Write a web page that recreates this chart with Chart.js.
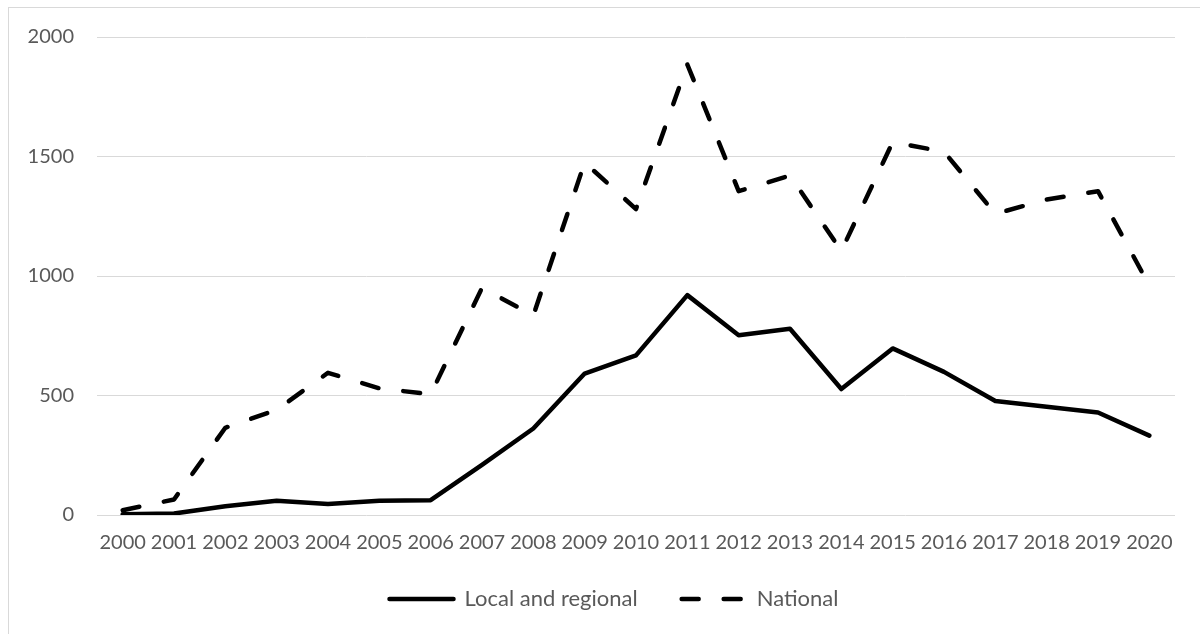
<!DOCTYPE html>
<html>
<head>
<meta charset="utf-8">
<title>Local and regional vs national, 2000–2020</title>
<script src="https://cdn.jsdelivr.net/npm/chart.js@4.4.1/dist/chart.umd.min.js"></script>
<style>
  html, body { margin: 0; padding: 0; background: #ffffff; }
  #wrap { position: relative; width: 1200px; height: 634px; overflow: hidden; }
  #frame {
    position: absolute; left: 8px; top: 7px; width: 1300px; height: 700px;
    border-top: 1px solid #d9d9d9; border-left: 1px solid #d9d9d9;
    pointer-events: none;
  }
  canvas { position: absolute; left: 0; top: 0; }
</style>
</head>
<body>
<div id="wrap">
  <div id="frame"></div>
  <canvas id="chart" width="1200" height="634"></canvas>
</div>
<script>
// Years on the horizontal axis
const years = ['2000', '2001', '2002', '2003', '2004', '2005', '2006', '2007', '2008', '2009', '2010',
               '2011', '2012', '2013', '2014', '2015', '2016', '2017', '2018', '2019', '2020'];

// Series values per year
const localRegional = [3, 6, 37, 60, 46, 60, 62, 210, 362, 592, 668, 920, 752, 779, 527, 697, 599, 477, 453, 429, 332];
const national      = [20, 65, 365, 440, 595, 530, 505, 950, 835, 1475, 1280, 1885, 1355, 1420, 1105, 1560, 1520, 1260, 1320, 1355, 960];

// Value axis ticks
const yTicks = [0, 500, 1000, 1500, 2000];

const seriesNames = ['Local and regional', 'National'];

const FONT = 'Lato';
const TEXT = '#595959';
const GRID = '#d9d9d9';
const FS = 20;        // axis labels
const LEGEND_FS = 22; // legend labels
const LEGEND_PAD = 44;
const LEGEND_START_X = 389.5;
const LEGEND_CENTER_Y = 599;

const PAD_L = 20, PAD_R = 25;

// Pins the legend row to a fixed start x and row centre y
const legendShift = {
  id: 'legendShift',
  afterLayout(chart) {
    const lg = chart.legend;
    if (!lg || !lg.lineWidths) return;
    const start = (lg.left + LEGEND_PAD + lg.right - lg.lineWidths[0]) / 2;
    const dx = LEGEND_START_X - start;
    lg.left += dx;
    lg.right += dx;
    const dy = LEGEND_CENTER_Y - (lg.top + LEGEND_PAD + LEGEND_FS / 2);
    lg.top += dy;
    lg.bottom += dy;
  }
};

new Chart(document.getElementById('chart'), {
  type: 'line',
  data: {
    labels: years,
    datasets: [
      {
        label: seriesNames[0],
        data: localRegional,
        borderColor: '#000000',
        backgroundColor: '#000000',
        borderWidth: 4.5,
        pointRadius: 0,
        tension: 0,
        borderCapStyle: 'round',
        borderJoinStyle: 'round'
      },
      {
        label: seriesNames[1],
        data: national,
        borderColor: '#000000',
        backgroundColor: '#000000',
        borderWidth: 4.5,
        borderDash: [17, 25],
        pointRadius: 0,
        tension: 0,
        borderCapStyle: 'round',
        borderJoinStyle: 'round'
      }
    ]
  },
  plugins: [legendShift],
  options: {
    responsive: false,
    animation: false,
    devicePixelRatio: 1,
    layout: { padding: { left: PAD_L, right: PAD_R, top: 37, bottom: 3 } },
    plugins: {
      tooltip: { enabled: false },
      legend: {
        position: 'bottom',
        labels: {
          usePointStyle: true,
          pointStyleWidth: 64,
          padding: LEGEND_PAD,
          color: TEXT,
          font: { family: FONT, size: LEGEND_FS },
          generateLabels: (chart) => chart.data.datasets.map((ds, i) => ({
            text: ds.label,
            datasetIndex: i,
            hidden: false,
            fillStyle: ds.borderColor,
            strokeStyle: ds.borderColor,
            lineWidth: ds.borderWidth,
            lineDash: ds.borderDash || [],
            lineCap: 'round',
            pointStyle: 'line',
            fontColor: TEXT
          }))
        }
      }
    },
    scales: {
      x: {
        type: 'category',
        offset: true,
        grid: { display: false, drawTicks: false },
        border: { display: false },
        ticks: {
          color: TEXT,
          font: { family: FONT, size: FS },
          padding: 16,
          maxRotation: 0,
          autoSkip: false
        },
        afterFit: (s) => { s.height = 40; }
      },
      y: {
        min: yTicks[0],
        max: yTicks[yTicks.length - 1],
        grid: { color: GRID, lineWidth: 1, drawTicks: false },
        border: { display: false },
        afterBuildTicks: (s) => { s.ticks = yTicks.map(v => ({ value: v })); },
        ticks: {
          color: TEXT,
          font: { family: FONT, size: FS },
          padding: 23,
          callback: (v) => String(v)
        },
        afterFit: (s) => { s.width = 97 - PAD_L; }
      }
    }
  }
});
</script>
</body>
</html>
